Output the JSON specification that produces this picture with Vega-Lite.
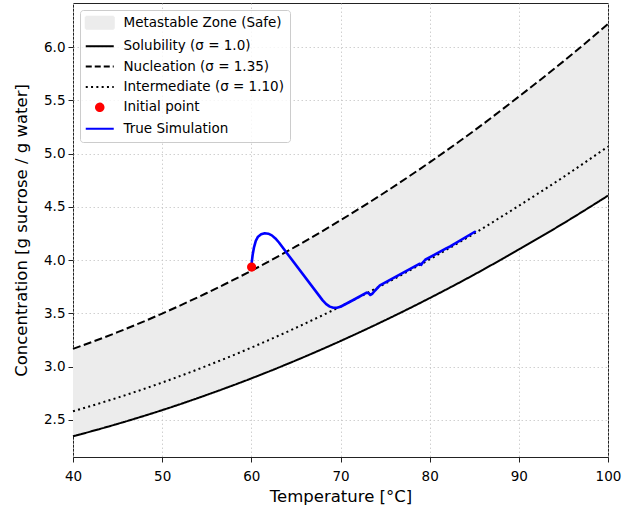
{
  "$schema": "https://vega.github.io/schema/vega-lite/v6.json",
  "width": 535,
  "height": 454,
  "autosize": {"type": "none"},
  "padding": {"left": 73, "top": 3, "right": 26, "bottom": 53},
  "background": "white",
  "config": {
    "view": {"stroke": "#222222", "strokeWidth": 1},
    "axis": {
      "domain": false,
      "grid": true,
      "gridColor": "#c4c4c4",
      "gridDash": [1.5, 2.5],
      "gridWidth": 0.8,
      "tickColor": "#222222",
      "tickSize": 5,
      "tickWidth": 1,
      "labelFont": "DejaVu Sans",
      "labelFontSize": 13.5,
      "labelColor": "#000000",
      "titleFont": "DejaVu Sans",
      "titleFontSize": 16.5,
      "titleFontWeight": "normal",
      "titleColor": "#000000",
      "labelFlush": false,
      "labelOverlap": false
    }
  },
  "datasets": {
    "zone": [
      {"T": 40, "lo": 2.345, "hi": 3.166, "series": "Metastable Zone (Safe)"},
      {"T": 45, "lo": 2.462, "hi": 3.323, "series": "Metastable Zone (Safe)"},
      {"T": 50, "lo": 2.591, "hi": 3.498, "series": "Metastable Zone (Safe)"},
      {"T": 55, "lo": 2.734, "hi": 3.691, "series": "Metastable Zone (Safe)"},
      {"T": 60, "lo": 2.889, "hi": 3.900, "series": "Metastable Zone (Safe)"},
      {"T": 65, "lo": 3.058, "hi": 4.128, "series": "Metastable Zone (Safe)"},
      {"T": 70, "lo": 3.240, "hi": 4.374, "series": "Metastable Zone (Safe)"},
      {"T": 75, "lo": 3.435, "hi": 4.637, "series": "Metastable Zone (Safe)"},
      {"T": 80, "lo": 3.643, "hi": 4.918, "series": "Metastable Zone (Safe)"},
      {"T": 85, "lo": 3.864, "hi": 5.216, "series": "Metastable Zone (Safe)"},
      {"T": 90, "lo": 4.100, "hi": 5.535, "series": "Metastable Zone (Safe)"},
      {"T": 95, "lo": 4.345, "hi": 5.866, "series": "Metastable Zone (Safe)"},
      {"T": 100, "lo": 4.605, "hi": 6.217, "series": "Metastable Zone (Safe)"}
    ],
    "curves": [
      {"series": "Solubility (σ = 1.0)", "T": 40, "C": 2.345},
      {"series": "Solubility (σ = 1.0)", "T": 45, "C": 2.462},
      {"series": "Solubility (σ = 1.0)", "T": 50, "C": 2.591},
      {"series": "Solubility (σ = 1.0)", "T": 55, "C": 2.734},
      {"series": "Solubility (σ = 1.0)", "T": 60, "C": 2.889},
      {"series": "Solubility (σ = 1.0)", "T": 65, "C": 3.058},
      {"series": "Solubility (σ = 1.0)", "T": 70, "C": 3.240},
      {"series": "Solubility (σ = 1.0)", "T": 75, "C": 3.435},
      {"series": "Solubility (σ = 1.0)", "T": 80, "C": 3.643},
      {"series": "Solubility (σ = 1.0)", "T": 85, "C": 3.864},
      {"series": "Solubility (σ = 1.0)", "T": 90, "C": 4.100},
      {"series": "Solubility (σ = 1.0)", "T": 95, "C": 4.345},
      {"series": "Solubility (σ = 1.0)", "T": 100, "C": 4.605},
      {"series": "Nucleation (σ = 1.35)", "T": 40, "C": 3.166},
      {"series": "Nucleation (σ = 1.35)", "T": 45, "C": 3.323},
      {"series": "Nucleation (σ = 1.35)", "T": 50, "C": 3.498},
      {"series": "Nucleation (σ = 1.35)", "T": 55, "C": 3.691},
      {"series": "Nucleation (σ = 1.35)", "T": 60, "C": 3.900},
      {"series": "Nucleation (σ = 1.35)", "T": 65, "C": 4.128},
      {"series": "Nucleation (σ = 1.35)", "T": 70, "C": 4.374},
      {"series": "Nucleation (σ = 1.35)", "T": 75, "C": 4.637},
      {"series": "Nucleation (σ = 1.35)", "T": 80, "C": 4.918},
      {"series": "Nucleation (σ = 1.35)", "T": 85, "C": 5.216},
      {"series": "Nucleation (σ = 1.35)", "T": 90, "C": 5.535},
      {"series": "Nucleation (σ = 1.35)", "T": 95, "C": 5.866},
      {"series": "Nucleation (σ = 1.35)", "T": 100, "C": 6.217},
      {"series": "Intermediate (σ = 1.10)", "T": 40, "C": 2.580},
      {"series": "Intermediate (σ = 1.10)", "T": 45, "C": 2.708},
      {"series": "Intermediate (σ = 1.10)", "T": 50, "C": 2.850},
      {"series": "Intermediate (σ = 1.10)", "T": 55, "C": 3.007},
      {"series": "Intermediate (σ = 1.10)", "T": 60, "C": 3.178},
      {"series": "Intermediate (σ = 1.10)", "T": 65, "C": 3.364},
      {"series": "Intermediate (σ = 1.10)", "T": 70, "C": 3.564},
      {"series": "Intermediate (σ = 1.10)", "T": 75, "C": 3.779},
      {"series": "Intermediate (σ = 1.10)", "T": 80, "C": 4.007},
      {"series": "Intermediate (σ = 1.10)", "T": 85, "C": 4.250},
      {"series": "Intermediate (σ = 1.10)", "T": 90, "C": 4.510},
      {"series": "Intermediate (σ = 1.10)", "T": 95, "C": 4.780},
      {"series": "Intermediate (σ = 1.10)", "T": 100, "C": 5.066}
    ],
    "sim": [
      {"i": 1, "T": 60.03, "C": 3.934, "series": "True Simulation"},
      {"i": 2, "T": 60.05, "C": 3.98, "series": "True Simulation"},
      {"i": 3, "T": 60.15, "C": 4.05, "series": "True Simulation"},
      {"i": 4, "T": 60.3, "C": 4.12, "series": "True Simulation"},
      {"i": 5, "T": 60.5, "C": 4.18, "series": "True Simulation"},
      {"i": 6, "T": 60.75, "C": 4.22, "series": "True Simulation"},
      {"i": 7, "T": 61.1, "C": 4.243, "series": "True Simulation"},
      {"i": 8, "T": 61.5, "C": 4.252, "series": "True Simulation"},
      {"i": 9, "T": 61.9, "C": 4.248, "series": "True Simulation"},
      {"i": 10, "T": 62.3, "C": 4.232, "series": "True Simulation"},
      {"i": 11, "T": 62.7, "C": 4.203, "series": "True Simulation"},
      {"i": 12, "T": 63.1, "C": 4.165, "series": "True Simulation"},
      {"i": 13, "T": 63.5, "C": 4.12, "series": "True Simulation"},
      {"i": 14, "T": 64.0, "C": 4.064, "series": "True Simulation"},
      {"i": 15, "T": 68.0, "C": 3.622, "series": "True Simulation"},
      {"i": 16, "T": 68.4, "C": 3.586, "series": "True Simulation"},
      {"i": 17, "T": 68.8, "C": 3.563, "series": "True Simulation"},
      {"i": 18, "T": 69.2, "C": 3.553, "series": "True Simulation"},
      {"i": 19, "T": 69.6, "C": 3.553, "series": "True Simulation"},
      {"i": 20, "T": 70.0, "C": 3.562, "series": "True Simulation"},
      {"i": 21, "T": 71.43, "C": 3.625, "series": "True Simulation"},
      {"i": 22, "T": 72.93, "C": 3.694, "series": "True Simulation"},
      {"i": 23, "T": 73.15, "C": 3.69, "series": "True Simulation"},
      {"i": 24, "T": 73.35, "C": 3.672, "series": "True Simulation"},
      {"i": 25, "T": 73.55, "C": 3.683, "series": "True Simulation"},
      {"i": 26, "T": 73.85, "C": 3.712, "series": "True Simulation"},
      {"i": 27, "T": 74.42, "C": 3.762, "series": "True Simulation"},
      {"i": 28, "T": 78.9, "C": 3.966, "series": "True Simulation"},
      {"i": 29, "T": 79.05, "C": 3.955, "series": "True Simulation"},
      {"i": 30, "T": 79.2, "C": 3.975, "series": "True Simulation"},
      {"i": 31, "T": 79.5, "C": 4.003, "series": "True Simulation"},
      {"i": 32, "T": 81.9, "C": 4.112, "series": "True Simulation"},
      {"i": 33, "T": 82.3, "C": 4.128, "series": "True Simulation"},
      {"i": 34, "T": 85.07, "C": 4.266, "series": "True Simulation"}
    ],
    "init": [
      {"T": 60.03, "C": 3.934, "series": "Initial point"}
    ]
  },
  "layer": [
    {
      "data": {"name": "zone"},
      "mark": {"type": "area", "interpolate": "monotone", "opacity": 1},
      "encoding": {
        "x": {"field": "T", "type": "quantitative", "scale": {"domain": [40, 100], "nice": false, "zero": false},
              "axis": {"title": "Temperature [°C]", "values": [40, 50, 60, 70, 80, 90, 100], "labelPadding": 7, "titlePadding": 6}},
        "y": {"field": "lo", "type": "quantitative", "scale": {"domain": [2.151, 6.414], "nice": false, "zero": false},
              "axis": {"title": "Concentration [g sucrose / g water]", "values": [2.5, 3.0, 3.5, 4.0, 4.5, 5.0, 5.5, 6.0], "format": ".1f", "labelPadding": 3, "titlePadding": 14}},
        "y2": {"field": "hi"},
        "color": {
          "field": "series", "type": "nominal",
          "scale": {
            "domain": ["Metastable Zone (Safe)", "Solubility (σ = 1.0)", "Nucleation (σ = 1.35)", "Intermediate (σ = 1.10)", "Initial point", "True Simulation"],
            "range": ["#ececec", "#000000", "#000000", "#000000", "#ff0000", "#0000ff"]
          },
          "legend": {
            "orient": "top-left",
            "offset": 7,
            "title": null,
            "padding": 6,
            "strokeColor": "#cccccc",
            "fillColor": "rgba(255,255,255,0.8)",
            "cornerRadius": 3,
            "labelFont": "DejaVu Sans",
            "labelFontSize": 13.5,
            "labelColor": "#000000",
            "labelLimit": 400,
            "symbolSize": 100,
            "symbolType": {"expr": "datum.value === 'Initial point' ? 'M-0.75,0A0.75,0.75,0,1,0,0.75,0A0.75,0.75,0,1,0,-0.75,0Z' : (datum.value === 'Metastable Zone (Safe)' ? 'M-2.8,-1.2H2.8V1.2H-2.8Z' : 'M-2.8,0H2.8')"},
            "symbolDash": {"expr": "indexof(datum.value, 'Nucleation') >= 0 ? [6, 3] : (indexof(datum.value, 'Intermediate') >= 0 ? [2, 3.3] : [1, 0])"},
            "symbolStrokeWidth": 2,
            "symbolOpacity": 1,
            "symbolOffset": 7,
            "labelOffset": 17,
            "rowPadding": 5.4
          }
        }
      }
    },
    {
      "data": {"name": "curves"},
      "mark": {"type": "line", "interpolate": "monotone", "strokeWidth": 2},
      "encoding": {
        "x": {"field": "T", "type": "quantitative"},
        "y": {"field": "C", "type": "quantitative"},
        "color": {"field": "series", "type": "nominal"},
        "strokeDash": {
          "field": "series", "type": "nominal",
          "scale": {
            "domain": ["Solubility (σ = 1.0)", "Nucleation (σ = 1.35)", "Intermediate (σ = 1.10)"],
            "range": [[1, 0], [8, 3.5], [2, 3.3]]
          },
          "legend": null
        }
      }
    },
    {
      "data": {"name": "sim"},
      "mark": {"type": "line", "interpolate": "linear", "strokeWidth": 2.6, "strokeJoin": "round", "strokeCap": "round"},
      "encoding": {
        "x": {"field": "T", "type": "quantitative"},
        "y": {"field": "C", "type": "quantitative"},
        "order": {"field": "i", "type": "quantitative"},
        "color": {"field": "series", "type": "nominal"}
      }
    },
    {
      "data": {"name": "init"},
      "mark": {"type": "point", "filled": true, "opacity": 1, "size": 85},
      "encoding": {
        "x": {"field": "T", "type": "quantitative"},
        "y": {"field": "C", "type": "quantitative"},
        "color": {"field": "series", "type": "nominal"}
      }
    }
  ]
}
